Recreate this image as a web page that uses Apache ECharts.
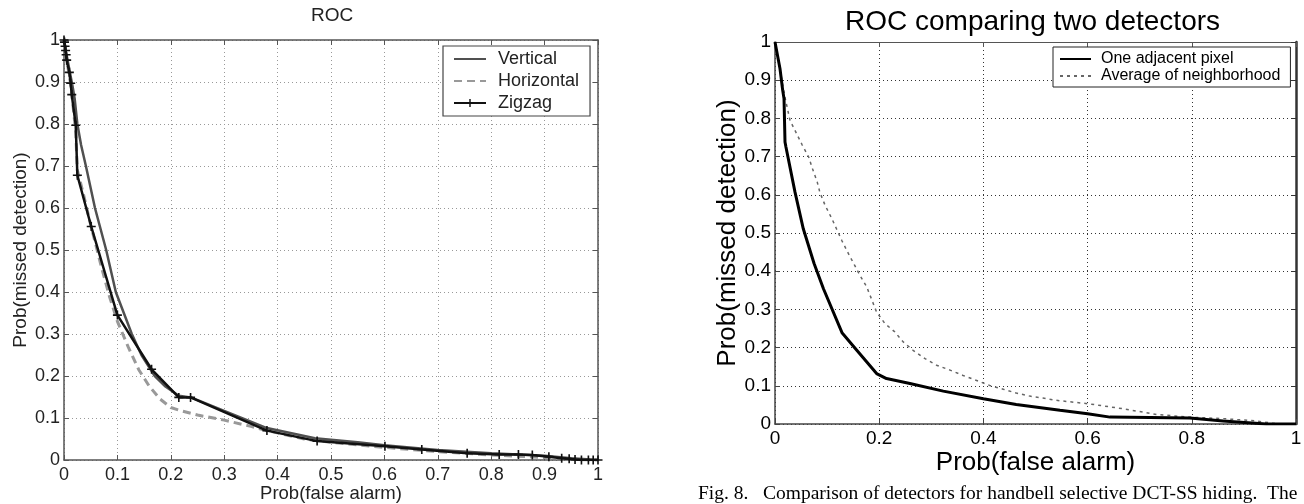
<!DOCTYPE html>
<html>
<head>
<meta charset="utf-8">
<script src="https://cdn.jsdelivr.net/npm/echarts@6/dist/echarts.min.js"></script>
<style>
html,body{margin:0;padding:0;background:#fff;}
#c{width:1304px;height:504px;}
</style>
</head>
<body>
<div id="c"></div>
<script>
// ---- Left chart: ROC ----
const leftTitle = 'ROC';
const leftXTicks = ['0','0.1','0.2','0.3','0.4','0.5','0.6','0.7','0.8','0.9','1'];
const leftYTicks = ['0','0.1','0.2','0.3','0.4','0.5','0.6','0.7','0.8','0.9','1'];
const leftNames = ['Vertical','Horizontal','Zigzag'];
const verticalData = [[0,1],[0.004,0.97],[0.01,0.93],[0.016,0.89],[0.02,0.86],[0.025,0.8],[0.032,0.75],[0.041,0.7],[0.058,0.6],[0.079,0.5],[0.097,0.4],[0.112,0.35],[0.127,0.3],[0.145,0.25],[0.17,0.2],[0.19,0.175],[0.215,0.153],[0.24,0.148],[0.3,0.117],[0.38,0.076],[0.47,0.052],[0.55,0.042],[0.6,0.035],[0.7,0.024],[0.8,0.016],[0.9,0.01],[0.95,0.004],[1,0]];
const horizontalData = [[0,1],[0.003,0.97],[0.008,0.93],[0.013,0.89],[0.018,0.83],[0.022,0.78],[0.025,0.69],[0.035,0.64],[0.05,0.56],[0.07,0.46],[0.085,0.39],[0.1,0.33],[0.12,0.27],[0.14,0.215],[0.16,0.175],[0.18,0.145],[0.2,0.125],[0.22,0.117],[0.25,0.107],[0.3,0.095],[0.35,0.08],[0.38,0.07],[0.45,0.05],[0.5,0.042],[0.6,0.03],[0.7,0.02],[0.8,0.012],[0.9,0.006],[0.95,0.002],[1,0]];
const zigzagData = [[0,1],[0.001,0.995],[0.002,0.985],[0.003,0.975],[0.004,0.965],[0.005,0.952],[0.01,0.923],[0.0125,0.897],[0.0145,0.87],[0.022,0.797],[0.025,0.678],[0.051,0.556],[0.1,0.345],[0.164,0.216],[0.215,0.149],[0.237,0.149],[0.38,0.07],[0.474,0.045],[0.601,0.033],[0.67,0.025],[0.755,0.016],[0.815,0.013],[0.851,0.013],[0.877,0.012],[0.908,0.008],[0.932,0.004],[0.946,0.003],[0.957,0.001],[0.969,0],[0.982,0],[0.991,0],[1,0]];

// ---- Right chart: ROC comparing two detectors ----
const rightTitle = 'ROC comparing two detectors';
const rightXTicks = ['0','0.2','0.4','0.6','0.8','1'];
const rightYTicks = ['0','0.1','0.2','0.3','0.4','0.5','0.6','0.7','0.8','0.9','1'];
const rightNames = ['One adjacent pixel','Average of neighborhood'];
const adjacentData = [[0,1],[0.0096,0.93],[0.0147,0.874],[0.0173,0.852],[0.0192,0.738],[0.021,0.725],[0.0384,0.607],[0.0543,0.511],[0.075,0.42],[0.093,0.354],[0.129,0.238],[0.157,0.193],[0.195,0.132],[0.214,0.119],[0.259,0.106],[0.323,0.086],[0.4,0.066],[0.463,0.051],[0.547,0.036],[0.6,0.027],[0.643,0.018],[0.796,0.016],[0.86,0.008],[0.943,0],[1,0]];
const neighborhoodData = [[0,1],[0.0064,0.952],[0.0128,0.904],[0.019,0.856],[0.0288,0.795],[0.04,0.764],[0.052,0.731],[0.0646,0.699],[0.072,0.668],[0.081,0.634],[0.086,0.607],[0.096,0.573],[0.109,0.538],[0.118,0.511],[0.128,0.481],[0.141,0.446],[0.153,0.415],[0.163,0.389],[0.176,0.359],[0.185,0.328],[0.195,0.293],[0.211,0.263],[0.23,0.241],[0.246,0.215],[0.265,0.193],[0.288,0.171],[0.31,0.154],[0.336,0.141],[0.361,0.127],[0.387,0.114],[0.412,0.101],[0.438,0.091],[0.463,0.081],[0.489,0.073],[0.514,0.068],[0.54,0.062],[0.601,0.053],[0.668,0.04],[0.732,0.025],[0.796,0.018],[0.86,0.014],[0.924,0.008],[0.96,0.001],[1,0]];

const captionText = 'Fig. 8.   Comparison of detectors for handbell selective DCT-SS hiding.  The';

const FONT = 'Liberation Sans, Arial, Helvetica, sans-serif';
const plusSymbol = 'path://M0,4.1H10V5.9H0Z M4.1,0H5.9V10H4.1Z';

function mainX(grid, ticks, interval, cfg) {
  return {
    type: 'value', gridIndex: grid, min: 0, max: 1, interval: interval, position: 'bottom',
    name: cfg.name, nameLocation: 'middle', nameGap: cfg.nameGap, nameMoveOverlap: false,
    nameTextStyle: {fontFamily: FONT, fontSize: cfg.nameSize, color: cfg.color},
    axisLine: {show: true, onZero: false, lineStyle: {color: cfg.axisColor, width: cfg.axisWidth}},
    axisTick: {show: true, inside: true, length: 5, lineStyle: {color: cfg.axisColor, width: 1}},
    axisLabel: {show: true, margin: cfg.labelMargin, fontFamily: FONT, fontSize: cfg.labelSize, color: cfg.color,
      formatter: v => ticks[Math.round(v / interval)]},
    splitLine: {show: true, lineStyle: {color: cfg.gridColor, width: 1, type: [1, 3]}}
  };
}
function mainY(grid, ticks, interval, cfg) {
  return {
    type: 'value', gridIndex: grid, min: 0, max: 1, interval: interval, position: 'left',
    name: cfg.name, nameLocation: 'middle', nameGap: cfg.nameGap, nameMoveOverlap: false,
    nameTextStyle: {fontFamily: FONT, fontSize: cfg.nameSize, color: cfg.color},
    axisLine: {show: true, onZero: false, lineStyle: {color: cfg.axisColor, width: cfg.axisWidth}},
    axisTick: {show: true, inside: true, length: 5, lineStyle: {color: cfg.axisColor, width: 1}},
    axisLabel: {show: true, margin: cfg.labelMargin, fontFamily: FONT, fontSize: cfg.labelSize, color: cfg.color,
      formatter: v => ticks[Math.round(v / interval)]},
    splitLine: {show: true, lineStyle: {color: cfg.gridColor, width: 1, type: [1, 3]}}
  };
}
function mirrorX(grid, interval, color, width) {
  return {type: 'value', gridIndex: grid, min: 0, max: 1, interval: interval, position: 'top',
    axisLine: {show: true, onZero: false, lineStyle: {color: color, width: width}},
    axisTick: {show: true, inside: true, length: 5, lineStyle: {color: color, width: 1}},
    axisLabel: {show: false}, splitLine: {show: false}};
}
function mirrorY(grid, interval, color, width) {
  return {type: 'value', gridIndex: grid, min: 0, max: 1, interval: interval, position: 'right',
    axisLine: {show: true, onZero: false, lineStyle: {color: color, width: width}},
    axisTick: {show: true, inside: true, length: 5, lineStyle: {color: color, width: 1}},
    axisLabel: {show: false}, splitLine: {show: false}};
}

const leftCfgX = {name: 'Prob(false alarm)', nameGap: 24, nameSize: 18.5, color: '#222', axisColor: '#555', axisWidth: 1.5, labelMargin: 6, labelSize: 18, gridColor: '#999'};
const leftCfgY = {name: 'Prob(missed detection)', nameGap: 34, nameSize: 19, color: '#222', axisColor: '#555', axisWidth: 1.5, labelMargin: 4, labelSize: 18, gridColor: '#999'};
const rightCfgX = {name: 'Prob(false alarm)', nameGap: 26, nameSize: 26, color: '#000', axisColor: '#444', axisWidth: 1.5, labelMargin: 5, labelSize: 19, gridColor: '#333'};
const rightCfgY = {name: 'Prob(missed detection)', nameGap: 34, nameSize: 26, color: '#000', axisColor: '#444', axisWidth: 1.5, labelMargin: 4, labelSize: 19, gridColor: '#333'};

const noMark = {opacity: 0};

const chart = echarts.init(document.getElementById('c'), null, {renderer: 'canvas'});
chart.setOption({
  backgroundColor: '#fff',
  animation: false,
  grid: [
    {left: 64, top: 40, width: 534, height: 420, outerBoundsMode: 'none', containLabel: false},
    {left: 775, top: 42, width: 521, height: 382, outerBoundsMode: 'none', containLabel: false}
  ],
  xAxis: [
    mainX(0, leftXTicks, 0.1, leftCfgX),
    mirrorX(0, 0.1, '#555', 1.5),
    mainX(1, rightXTicks, 0.2, rightCfgX),
    mirrorX(1, 0.2, '#555', 1.2)
  ],
  yAxis: [
    mainY(0, leftYTicks, 0.1, leftCfgY),
    mirrorY(0, 0.1, '#555', 1.5),
    mainY(1, rightYTicks, 0.1, rightCfgY),
    mirrorY(1, 0.1, '#333', 2.5)
  ],
  legend: [
    {data: [{name: leftNames[0], itemStyle: noMark}, {name: leftNames[1], itemStyle: noMark}, {name: leftNames[2]}],
      orient: 'vertical', left: 443, top: 46, padding: [4, 11, 4, 10],
      itemWidth: 32, itemHeight: 10, itemGap: 4,
      backgroundColor: '#fff', borderColor: '#444', borderWidth: 1.2, borderRadius: 0,
      textStyle: {fontFamily: FONT, fontSize: 18, lineHeight: 18, color: '#222', padding: [0, 0, 0, 7]}},
    {data: [{name: rightNames[0], itemStyle: noMark}, {name: rightNames[1], itemStyle: noMark}],
      orient: 'vertical', left: 1053, top: 47, padding: [4, 10, 3, 6],
      itemWidth: 31, itemHeight: 10, itemGap: 1,
      backgroundColor: '#fff', borderColor: '#222', borderWidth: 1, borderRadius: 0,
      textStyle: {fontFamily: FONT, fontSize: 16, lineHeight: 15, color: '#000', padding: [0, 0, 0, 5]}}
  ],
  graphic: [
    {type: 'text', left: 311, top: 6, style: {text: leftTitle, font: '19px ' + FONT, fill: '#222'}},
    {type: 'text', left: 845, top: 8, style: {text: rightTitle, font: '28px ' + FONT, fill: '#000'}},
    {type: 'text', left: 698, top: 484, style: {text: captionText, font: '19.5px "Liberation Serif", "Times New Roman", serif', fill: '#000'}}
  ],
  series: [
    {name: 'Vertical', type: 'line', xAxisIndex: 0, yAxisIndex: 0, data: verticalData, showSymbol: false, symbol: 'none',
      lineStyle: {color: '#505050', width: 2.5}, itemStyle: {color: '#505050'}, z: 3},
    {name: 'Horizontal', type: 'line', xAxisIndex: 0, yAxisIndex: 0, data: horizontalData, showSymbol: false, symbol: 'none',
      lineStyle: {color: '#999', width: 3, type: [8, 5]}, itemStyle: {color: '#999'}, z: 2},
    {name: 'Zigzag', type: 'line', xAxisIndex: 0, yAxisIndex: 0, data: zigzagData, symbol: plusSymbol, symbolSize: 9, showSymbol: true,
      lineStyle: {color: '#111', width: 2.5}, itemStyle: {color: '#111'}, z: 4},
    {name: 'One adjacent pixel', type: 'line', xAxisIndex: 2, yAxisIndex: 2, data: adjacentData, showSymbol: false, symbol: 'none',
      lineStyle: {color: '#000', width: 3}, itemStyle: {color: '#000'}, z: 4},
    {name: 'Average of neighborhood', type: 'line', xAxisIndex: 2, yAxisIndex: 2, data: neighborhoodData, showSymbol: false, symbol: 'none',
      lineStyle: {color: '#666', width: 1.5, type: [3, 4]}, itemStyle: {color: '#666'}, z: 3}
  ]
});
</script>
</body>
</html>
